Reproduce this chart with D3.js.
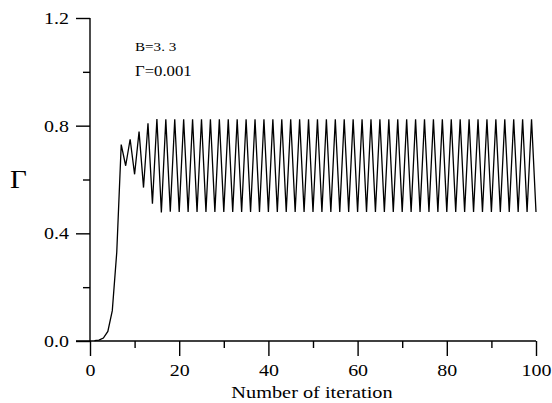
<!DOCTYPE html>
<html>
<head>
<meta charset="utf-8">
<script src="https://cdn.jsdelivr.net/npm/d3@7"></script>
<style>
  body { margin: 0; background: #fff; }
  svg text { font-family: "Liberation Serif", "DejaVu Serif", serif !important; fill: #000; }
</style>
</head>
<body>
<svg id="chart"></svg>
<script>
// iteration number (x) and Γ value (y)
const iterations = [
   1,  2,  3,  4,  5,  6,  7,  8,  9, 10, 11, 12, 13, 14, 15, 16, 17, 18, 19, 20,
  21, 22, 23, 24, 25, 26, 27, 28, 29, 30, 31, 32, 33, 34, 35, 36, 37, 38, 39, 40,
  41, 42, 43, 44, 45, 46, 47, 48, 49, 50, 51, 52, 53, 54, 55, 56, 57, 58, 59, 60,
  61, 62, 63, 64, 65, 66, 67, 68, 69, 70, 71, 72, 73, 74, 75, 76, 77, 78, 79, 80,
  81, 82, 83, 84, 85, 86, 87, 88, 89, 90, 91, 92, 93, 94, 95, 96, 97, 98, 99, 100
]
const gammaValues = [
  0.001, 0.0033, 0.0108, 0.0354, 0.1127, 0.3299, 0.7295, 0.6511, 0.7496, 0.6193,
  0.7780, 0.5700, 0.8089, 0.5102, 0.8247, 0.4772, 0.8233, 0.4801, 0.8237, 0.4794,
  0.8236, 0.4794, 0.8236, 0.4794, 0.8236, 0.4794, 0.8236, 0.4794, 0.8236, 0.4794,
  0.8236, 0.4794, 0.8236, 0.4794, 0.8236, 0.4794, 0.8236, 0.4794, 0.8236, 0.4794,
  0.8236, 0.4794, 0.8236, 0.4794, 0.8236, 0.4794, 0.8236, 0.4794, 0.8236, 0.4794,
  0.8236, 0.4794, 0.8236, 0.4794, 0.8236, 0.4794, 0.8236, 0.4794, 0.8236, 0.4794,
  0.8236, 0.4794, 0.8236, 0.4794, 0.8236, 0.4794, 0.8236, 0.4794, 0.8236, 0.4794,
  0.8236, 0.4794, 0.8236, 0.4794, 0.8236, 0.4794, 0.8236, 0.4794, 0.8236, 0.4794,
  0.8236, 0.4794, 0.8236, 0.4794, 0.8236, 0.4794, 0.8236, 0.4794, 0.8236, 0.4794,
  0.8236, 0.4794, 0.8236, 0.4794, 0.8236, 0.4794, 0.8236, 0.4794, 0.8236, 0.4794
]

const xMajor = [0, 20, 40, 60, 80, 100]
const xMinor = [10, 30, 50, 70, 90]
const yMajor = [0.0, 0.4, 0.8, 1.2]
const yMinor = [0.2, 0.6, 1.0]

const serif = "'Liberation Serif', 'DejaVu Serif', serif"

const width = 552, height = 403
const margin = {top: 18, right: 16, bottom: 62, left: 90}

const svg = d3.select("#chart")
    .attr("width", width)
    .attr("height", height)
    .attr("font-family", serif)

// the original font is a bit wider than Times, so widen the glyphs
function stretch(sel, k) {
    sel.each(function () {
        const w = this.getComputedTextLength()
        d3.select(this)
            .attr("textLength", w * k)
            .attr("lengthAdjust", "spacingAndGlyphs")
    })
}

const x = d3.scaleLinear()
    .domain([0, 100])
    .range([margin.left, width - margin.right])

const y = d3.scaleLinear()
    .domain([0, 1.2])
    .range([height - margin.bottom, margin.top])

// x axis: long ticks with labels, short ticks without
svg.append("g")
    .attr("transform", `translate(0, ${y(0)})`)
    .call(d3.axisBottom(x).tickValues(xMajor).tickSize(15).tickPadding(8)
        .tickFormat(d3.format("d")))
    .attr("font-family", serif)
    .call(g => g.select(".domain").attr("d", `M${x(0) - 14},0H${x(100)}`))
    .call(g => g.selectAll(".tick text").style("font-size", "17.5px").call(stretch, 1.14))

svg.append("g")
    .attr("transform", `translate(0, ${y(0)})`)
    .call(d3.axisBottom(x).tickValues(xMinor).tickSize(7).tickFormat(""))
    .call(g => g.select(".domain").remove())

// y axis
svg.append("g")
    .attr("transform", `translate(${x(0)}, 0)`)
    .call(d3.axisLeft(y).tickValues(yMajor).tickSize(14).tickPadding(7)
        .tickFormat(d3.format(".1f")))
    .attr("font-family", serif)
    .call(g => g.select(".domain").attr("d", `M0,${y(0)}V${y(1.2)}`))
    .call(g => g.selectAll(".tick text").style("font-size", "17.5px").call(stretch, 1.14))

svg.append("g")
    .attr("transform", `translate(${x(0)}, 0)`)
    .call(d3.axisLeft(y).tickValues(yMinor).tickSize(7).tickFormat(""))
    .call(g => g.select(".domain").remove())

svg.selectAll(".domain, .tick line")
    .attr("stroke", "#000")
    .attr("stroke-width", 1.4)

// the series
const line = d3.line()
    .x((d, i) => x(iterations[i]))
    .y(d => y(d))

svg.append("path")
    .datum(gammaValues)
    .attr("fill", "none")
    .attr("stroke", "#000")
    .attr("stroke-width", 1.3)
    .attr("d", line)

// labels
svg.append("text")
    .attr("x", x(50) - 1)
    .attr("y", 398)
    .attr("text-anchor", "middle")
    .style("font-size", "17.5px")
    .text("Number of iteration")
    .call(stretch, 1.16)

svg.append("text")
    .attr("x", 10)
    .attr("y", 188)
    .style("font-size", "26px")
    .text("Γ")
    .call(stretch, 1.12)

svg.append("text")
    .attr("x", 135)
    .attr("y", 51)
    .style("font-size", "13.5px")
    .text("B=3. 3")
    .call(stretch, 1.12)

svg.append("text")
    .attr("x", 135)
    .attr("y", 76)
    .style("font-size", "14.5px")
    .text("Γ=0.001")
    .call(stretch, 1.15)
</script>
</body>
</html>
